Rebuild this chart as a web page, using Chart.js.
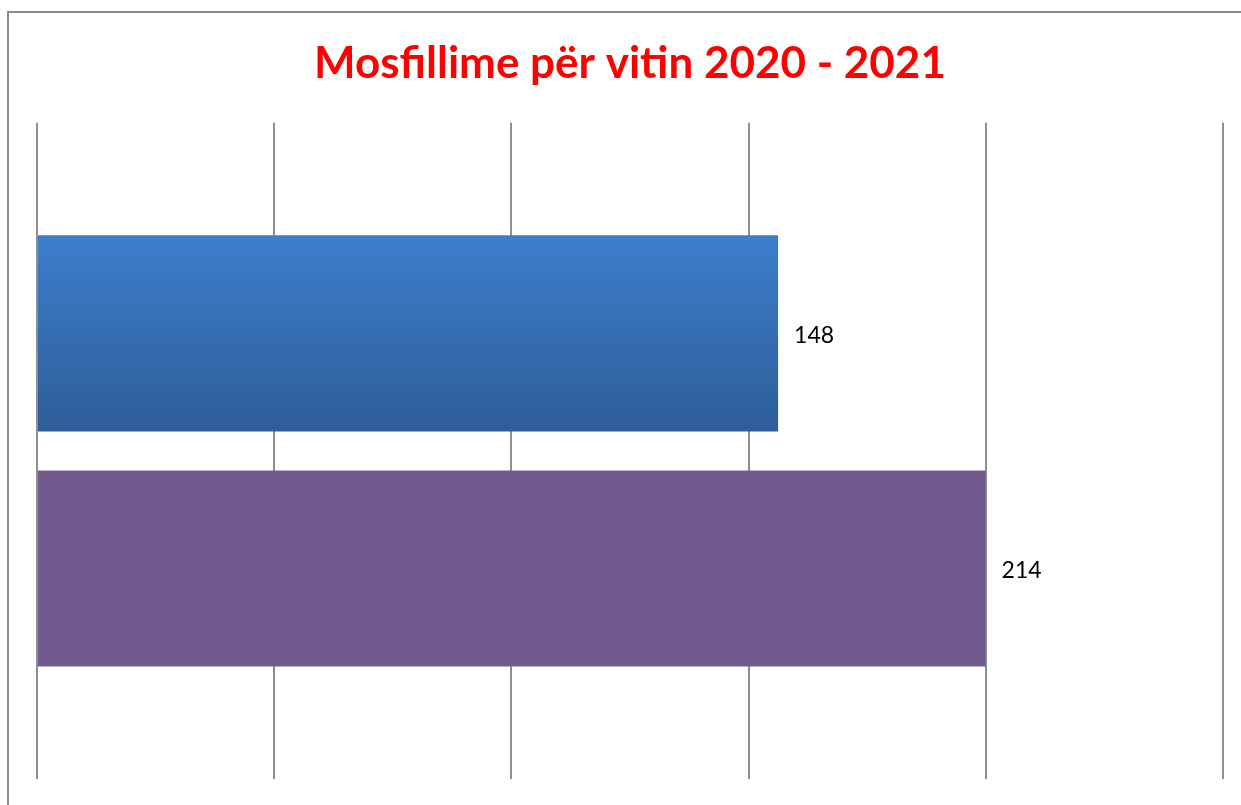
<!DOCTYPE html>
<html>
<head>
  <meta charset="utf-8">
  <title>Mosfillime për vitin 2020 - 2021</title>
  <script src="https://cdn.jsdelivr.net/npm/chart.js"></script>
  <style>
    body { margin: 0; padding: 0; background: #fff; }
    /* thin gray frame of the original chart object */
    .frame {
      position: absolute; left: 7px; top: 11px; right: -10px; bottom: -10px;
      border-left: 2px solid #8c8c8c; border-top: 2px solid #8c8c8c;
    }
    .wrap { position: absolute; left: 0; top: 0; width: 1241px; height: 805px; }
  </style>
</head>
<body>
  <div class="frame"></div>
  <div class="wrap"><canvas id="myChart"></canvas></div>
  <script>
    // --- DATA ---
    const chartTitle = 'Mosfillime për vitin 2020 - 2021';
    const categories = [''];
    const seriesNames = ['2020', '2021'];
    const seriesValues = [148, 214];

    // value axis range as it sits in the original (axis has no tick labels)
    const axisMin = -87.7;
    const axisMax = 289.5;
    const gridCount = 5;

    const barColors = ['#3b7bc8', '#725a8f'];

    // vertical gradient for the blue bar, built from the bar's own box
    function blueFill(ctx) {
      const chart = ctx.chart;
      const el = chart.getDatasetMeta(ctx.datasetIndex).data[ctx.dataIndex];
      if (!el || typeof el.y !== 'number' || !el.height) return barColors[0];
      const top = el.y - el.height / 2;
      const g = chart.ctx.createLinearGradient(0, top, 0, top + el.height);
      g.addColorStop(0, '#3d7ecc');
      g.addColorStop(1, '#2e5d98');
      return g;
    }

    // value labels to the right of each bar
    const valueLabels = {
      id: 'valueLabels',
      afterDatasetsDraw(chart) {
        const c = chart.ctx;
        c.save();
        c.font = '23px Lato';
        c.fillStyle = '#000';
        c.textBaseline = 'middle';
        c.textAlign = 'left';
        chart.data.datasets.forEach((ds, i) => {
          chart.getDatasetMeta(i).data.forEach((el, j) => {
            c.fillText(String(ds.data[j]), el.x + 16, el.y + 2);
          });
        });
        c.restore();
      }
    };

    const ctx = document.getElementById('myChart').getContext('2d');
    const chart = new Chart(ctx, {
      type: 'bar',
      data: {
        labels: categories,
        datasets: seriesNames.map((name, i) => ({
          label: name,
          data: [seriesValues[i]],
          base: axisMin,
          backgroundColor: i === 0 ? blueFill : barColors[i],
          borderWidth: 0,
          categoryPercentage: 0.7165,
          barPercentage: 0.834
        }))
      },
      options: {
        indexAxis: 'y',
        responsive: true,
        maintainAspectRatio: false,
        animation: false,
        layout: { padding: { left: 37, right: 18, top: 37, bottom: 26 } },
        plugins: {
          legend: { display: false },
          tooltip: { enabled: false },
          title: {
            display: true,
            text: chartTitle,
            color: '#ff0000',
            font: { family: 'Lato', size: 44, weight: 'bold', lineHeight: 1.2 },
            padding: { top: 0, bottom: 33 }
          }
        },
        scales: {
          x: {
            type: 'linear',
            min: axisMin,
            max: axisMax,
            afterBuildTicks(scale) {
              const step = (axisMax - axisMin) / gridCount;
              scale.ticks = Array.from({ length: gridCount + 1 }, (_, i) => ({ value: axisMin + i * step }));
            },
            ticks: { display: false },
            border: { display: false },
            grid: { color: '#8e8e8e', lineWidth: 2, drawTicks: false }
          },
          y: {
            ticks: { display: false },
            border: { display: false },
            grid: { display: false, drawTicks: false }
          }
        }
      },
      plugins: [valueLabels]
    });
    chart.update();
  </script>
</body>
</html>
